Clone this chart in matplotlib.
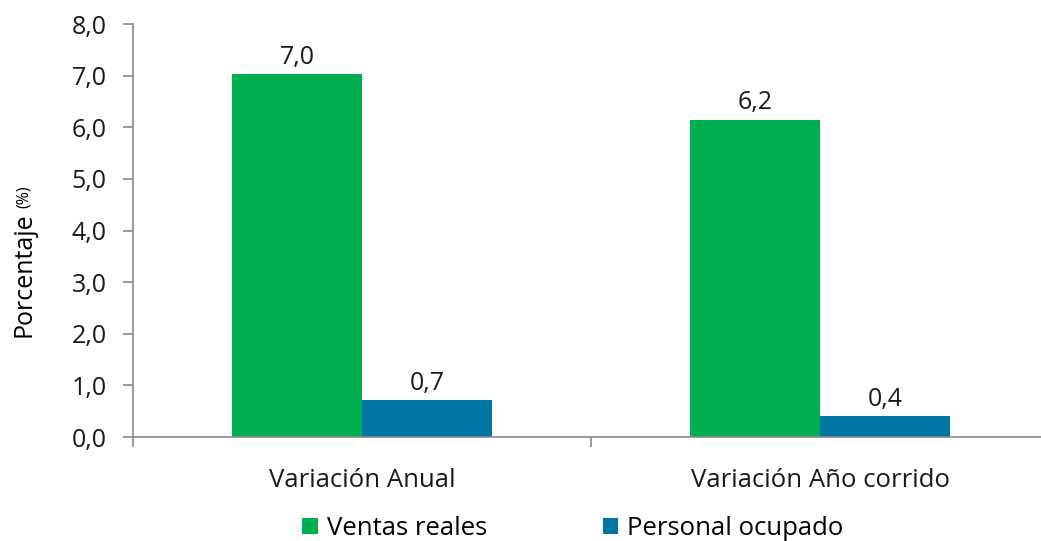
import numpy as np
import matplotlib.pyplot as plt
from matplotlib.ticker import FuncFormatter

plt.rcParams['font.family'] = ['Open Sans', 'DejaVu Sans']

# data
categorias = ["Variación Anual", "Variación Año corrido"]
series = ["Ventas reales", "Personal ocupado"]
ventas = [7.03, 6.15]
personal = [0.72, 0.41]
etiquetas_ventas = ["7,0", "6,2"]
etiquetas_personal = ["0,7", "0,4"]
colores = ["#00B050", "#0077A3"]

fig = plt.figure(figsize=(10.41, 5.41), dpi=100)
ax = fig.add_axes([0.1278, 0.1922, 0.880, 0.7634])

x = np.arange(len(categorias))
w = 0.284
b1 = ax.bar(x - w/2, ventas, w, color=colores[0], label=series[0])
b2 = ax.bar(x + w/2, personal, w, color=colores[1], label=series[1])

for bars, labs in [(b1, etiquetas_ventas), (b2, etiquetas_personal)]:
    for r, t in zip(bars, labs):
        ax.annotate(t, (r.get_x() + r.get_width()/2, r.get_height()),
                    xytext=(0, 3), textcoords="offset points",
                    ha="center", va="bottom", fontsize=18, color="#1a1a1a")

ax.set_xlim(-0.5, 1.5)
ax.set_ylim(0, 8)
ax.set_yticks(np.arange(0, 8.1, 1))
ax.yaxis.set_major_formatter(FuncFormatter(lambda v, p: f"{v:.1f}".replace(".", ",")))
ax.set_xticks([-0.5, 0.5, 1.5])
ax.set_xticklabels([])
for xi, c in zip(x, categorias):
    ax.text(xi, -0.6, c, ha="center", va="top", fontsize=18.5, color="#1a1a1a")

for s in ["top", "right"]:
    ax.spines[s].set_visible(False)
for s in ["left", "bottom"]:
    ax.spines[s].set_color("#898989")
    ax.spines[s].set_linewidth(1.2)
ax.tick_params(axis="y", length=7, width=1.2, color="#898989", labelsize=18,
               labelcolor="#1a1a1a", pad=12)
ax.tick_params(axis="x", length=7, width=1.2, color="#898989")

# y label in pixels from bottom-left
fig.text(24, 541 - 337, "Porcentaje", rotation=90, ha="center", va="bottom",
         fontsize=18, transform=None)
fig.text(24, 541 - 208, "(%)", rotation=90, ha="center", va="bottom",
         fontsize=11.5, transform=None)

ax.legend(loc="upper center", bbox_to_anchor=(0.48, -0.166), ncol=2, frameon=False,
          fontsize=18.5, handlelength=0.6, handleheight=0.6, handletextpad=0.35,
          columnspacing=4.5, borderaxespad=0)

fig.savefig("out.png", dpi=100)
